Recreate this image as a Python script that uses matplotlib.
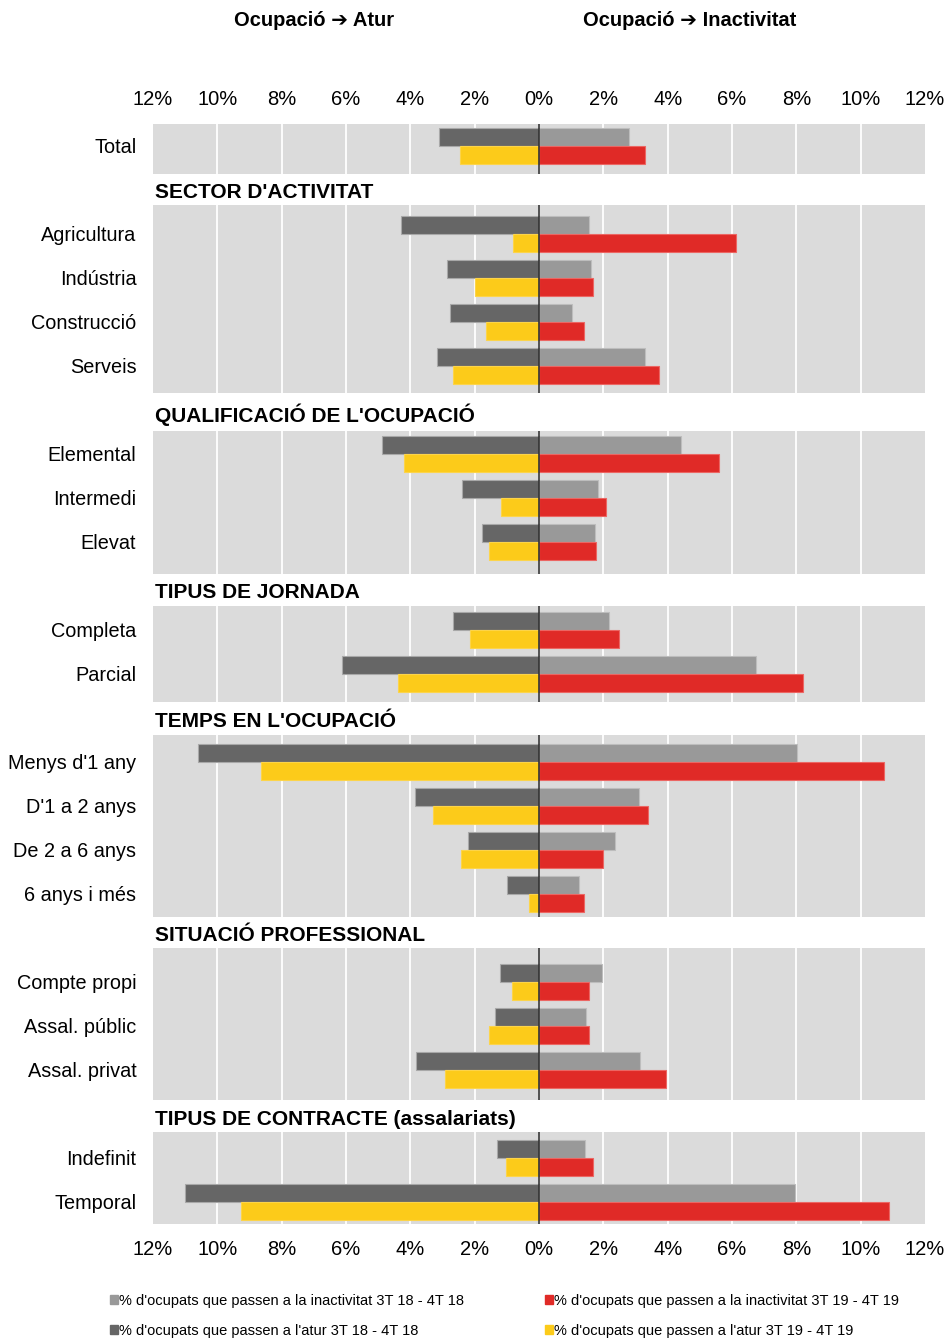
import matplotlib
matplotlib.use('Agg')
import matplotlib.pyplot as plt
from matplotlib.patches import Patch
from matplotlib.ticker import FuncFormatter, MultipleLocator

plt.rcParams['font.family'] = ['Liberation Sans', 'DejaVu Sans']

sections = [None, "SECTOR D'ACTIVITAT", "QUALIFICACIÓ DE L'OCUPACIÓ",
            'TIPUS DE JORNADA', "TEMPS EN L'OCUPACIÓ",
            'SITUACIÓ PROFESSIONAL', 'TIPUS DE CONTRACTE (assalariats)']
section_sizes = [1, 4, 3, 2, 4, 3, 2]

categories = ['Total',
              'Agricultura', 'Indústria', 'Construcció', 'Serveis',
              'Elemental', 'Intermedi', 'Elevat',
              'Completa', 'Parcial',
              "Menys d'1 any", "D'1 a 2 anys", 'De 2 a 6 anys', '6 anys i més',
              'Compte propi', 'Assal. públic', 'Assal. privat',
              'Indefinit', 'Temporal']

# % d'ocupats que passen a l'atur / a la inactivitat
atur_18 = [3.12, 4.29, 2.85, 2.78, 3.18, 4.87, 2.39, 1.76, 2.67, 6.11,
           10.59, 3.86, 2.21, 0.98, 1.22, 1.36, 3.82, 1.31, 10.99]
atur_19 = [2.46, 0.82, 1.98, 1.65, 2.66, 4.21, 1.17, 1.55, 2.14, 4.38,
           8.64, 3.30, 2.42, 0.30, 0.85, 1.55, 2.93, 1.04, 9.25]
inact_18 = [2.80, 1.54, 1.63, 1.02, 3.28, 4.40, 1.84, 1.75, 2.19, 6.75,
            8.02, 3.12, 2.37, 1.25, 1.97, 1.46, 3.15, 1.43, 7.97]
inact_19 = [3.31, 6.13, 1.68, 1.39, 3.74, 5.59, 2.08, 1.78, 2.48, 8.21,
            10.72, 3.38, 2.00, 1.39, 1.54, 1.55, 3.94, 1.68, 10.87]

legend_labels = ["% d'ocupats que passen a la inactivitat 3T 18 - 4T 18",
                 "% d'ocupats que passen a l'atur 3T 18 - 4T 18",
                 "% d'ocupats que passen a la inactivitat 3T 19 - 4T 19",
                 "% d'ocupats que passen a l'atur 3T 19 - 4T 19"]

c_dark, c_light, c_yellow, c_red = '#666666', '#999999', '#FCCB1A', '#E02A27'
bg = '#DBDBDB'
# panel padding (rows) above first / below last category of each block
pad_top = [0.5, 0.67, 0.53, 0.55, 0.61, 0.77, 0.59]
pad_bot = [0.63, 0.62, 0.72, 0.63, 0.53, 0.69, 0.5]

# row positions: one empty row between blocks for the heading
pos, blocks = [], []
k = 0
for i, n in enumerate(section_sizes):
    if i > 0:
        k += 1
    blocks.append((k, k + n - 1))
    pos.extend(range(k, k + n))
    k += n

W, H = 947, 1339
fig = plt.figure(figsize=(W / 100, H / 100), dpi=100)
ax = fig.add_axes([153 / W, 1 - 1224.3 / H, 772 / W, 1100.3 / H])
ax.set_facecolor('white')

h = 0.4
up = [p - h / 2 for p in pos]
dn = [p + h / 2 for p in pos]
ax.barh(up, [-v for v in atur_18], height=h, color=c_dark,
        edgecolor='#a8a8a8', linewidth=0.8, zorder=3)
ax.barh(dn, [-v for v in atur_19], height=h, color=c_yellow,
        edgecolor='#fcd44a', linewidth=0.8, zorder=3)
ax.barh(up, inact_18, height=h, color=c_light,
        edgecolor='#bdbdbd', linewidth=0.8, zorder=3)
ax.barh(dn, inact_19, height=h, color=c_red,
        edgecolor='#ec6663', linewidth=0.8, zorder=3)

prev_bottom = None
for (first, last), title, pt, pb in zip(blocks, sections, pad_top, pad_bot):
    top, bottom = first - pt, last + pb
    ax.axhspan(top, bottom, color=bg, lw=0, zorder=0)
    for x in range(-10, 11, 2):
        ax.vlines(x, top, bottom, color='white', lw=1.3, zorder=1)
    ax.vlines(0, top, bottom, color='#333333', lw=1.2, zorder=4)
    if title:
        ax.text(-11.95, (prev_bottom + top) / 2 + 0.07, title, ha='left',
                va='center', fontsize=15, fontweight='bold', zorder=5)
    prev_bottom = bottom

ax.set_xlim(-12, 12)
ax.set_ylim(24.507, -0.5)
ax.xaxis.set_major_locator(MultipleLocator(2))
ax.xaxis.set_major_formatter(FuncFormatter(lambda v, _: f'{abs(v):.0f}%'))
ax.set_yticks(pos)
ax.set_yticklabels(categories)
ax.tick_params(axis='x', top=True, labeltop=True, length=0, pad=11,
               labelsize=14.5)
ax.tick_params(axis='y', length=0, pad=12, labelsize=14.3)
for s in ax.spines.values():
    s.set_visible(False)

# ➔ is missing in Liberation Sans, so it falls back to DejaVu Sans
fig.text(314 / W, 1 - 21 / H, 'Ocupació ➔ Atur', ha='center', va='center',
         fontsize=14.5, fontweight='bold')
fig.text(690 / W, 1 - 21 / H, 'Ocupació ➔ Inactivitat', ha='center',
         va='center', fontsize=14.5, fontweight='bold')

colors = [c_light, c_dark, c_red, c_yellow]
handles = [Patch(color=c) for c in colors]
for col, x0 in enumerate([110, 545]):
    fig.legend(handles[2 * col:2 * col + 2],
               legend_labels[2 * col:2 * col + 2],
               loc='upper left', bbox_to_anchor=(x0 / W, 1 - 1294 / H),
               frameon=False, fontsize=10.5, handlelength=0.55,
               handleheight=0.55, handletextpad=0.1, borderpad=0,
               borderaxespad=0, labelspacing=1.1)

fig.savefig('out.png', dpi=100)
